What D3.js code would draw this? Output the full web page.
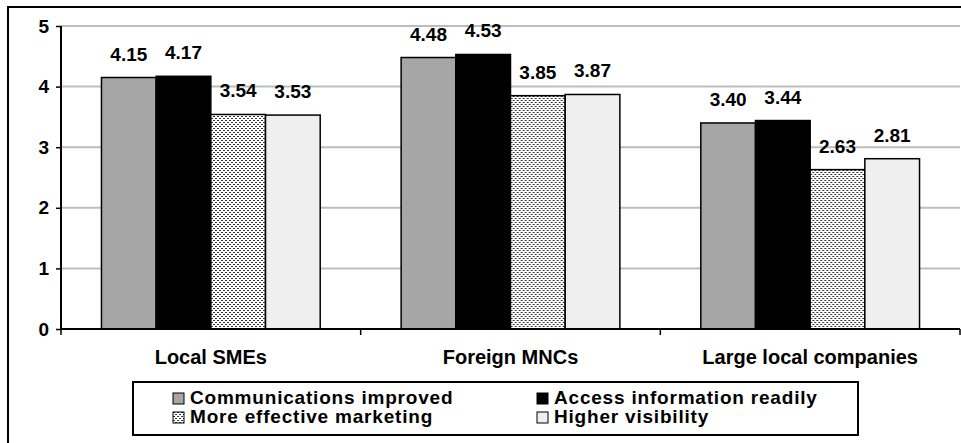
<!DOCTYPE html>
<html>
<head>
<meta charset="utf-8">
<script src="https://cdn.jsdelivr.net/npm/d3@7"></script>
<style>
  html, body { margin: 0; padding: 0; background: #fff; }
  svg { display: block; font-family: "Liberation Sans", Arial, sans-serif; font-weight: bold; }
</style>
</head>
<body>
<svg id="chart" width="961" height="443"></svg>
<script>
// Company groups along the x axis
const categories = ["Local SMEs", "Foreign MNCs", "Large local companies"];
// Benefit series (legend order)
const seriesNames = ["Communications improved", "Access information readily", "More effective marketing", "Higher visibility"];
// Mean scores per series, one value per company group
const communicationsImproved = [4.15, 4.48, 3.40];
const accessInformation = [4.17, 4.53, 3.44];
const effectiveMarketing = [3.54, 3.85, 2.63];
const higherVisibility = [3.53, 3.87, 2.81];
const yTicks = [0, 1, 2, 3, 4, 5];

const seriesValues = [communicationsImproved, accessInformation, effectiveMarketing, higherVisibility];
const fills = ["#a6a6a6", "#000000", "url(#dots)", "#efefef"];
const FONT = "'Liberation Sans', Arial, sans-serif";

const svg = d3.select("#chart");
const defs = svg.append("defs");

// Fine dotted fill for the marketing series
const pat = defs.append("pattern")
  .attr("id", "dots").attr("patternUnits", "userSpaceOnUse")
  .attr("width", 4).attr("height", 4);
pat.append("rect").attr("width", 4).attr("height", 4).attr("fill", "#ffffff");
pat.append("rect").attr("x", 0).attr("y", 0).attr("width", 2).attr("height", 1).attr("fill", "#333");
pat.append("rect").attr("x", 2).attr("y", 2).attr("width", 2).attr("height", 1).attr("fill", "#333");

// Outer chart frame
svg.append("rect")
  .attr("x", 8).attr("y", 7).attr("width", 1000).attr("height", 500)
  .attr("fill", "none").attr("stroke", "#000").attr("stroke-width", 2);

const plot = { left: 61, right: 960, top: 26, bottom: 329 };

const x0 = d3.scaleBand().domain(categories).range([plot.left, plot.right]).padding(0);
const x1 = d3.scaleBand().domain(seriesNames).range([0, x0.bandwidth()])
  .paddingInner(0).paddingOuter(0.74);
const y = d3.scaleLinear().domain([0, 5]).range([plot.bottom, plot.top]);

// Horizontal gridlines
svg.append("g").selectAll("line")
  .data(yTicks.filter(t => t > 0))
  .join("line")
  .attr("x1", plot.left).attr("x2", plot.right)
  .attr("y1", d => y(d)).attr("y2", d => y(d))
  .attr("stroke", "#bdbdbd").attr("stroke-width", 2);

// Bars
const groups = svg.append("g").selectAll("g")
  .data(categories)
  .join("g")
  .attr("transform", d => `translate(${x0(d)},0)`);

groups.selectAll("rect")
  .data((c, ci) => seriesNames.map((s, si) => ({ s, si, v: seriesValues[si][ci] })))
  .join("rect")
  .attr("x", d => x1(d.s))
  .attr("y", d => y(d.v))
  .attr("width", x1.bandwidth())
  .attr("height", d => y(0) - y(d.v))
  .attr("fill", d => fills[d.si])
  .attr("stroke", "#000").attr("stroke-width", 1.5);

// Value labels
groups.selectAll("text")
  .data((c, ci) => seriesNames.map((s, si) => ({ s, si, v: seriesValues[si][ci] })))
  .join("text")
  .attr("x", d => x1(d.s) + x1.bandwidth() / 2)
  .attr("y", d => y(d.v) - 17)
  .attr("text-anchor", "middle")
  .attr("font-size", 19)
  .attr("fill", "#000")
  .text(d => d.v.toFixed(2));

// Y axis
const yAxis = d3.axisLeft(y).tickValues(yTicks).tickFormat(d3.format("d")).tickSize(5).tickPadding(7);
const gy = svg.append("g").attr("transform", `translate(${plot.left},0)`).call(yAxis);
gy.select(".domain").attr("stroke", "#000").attr("stroke-width", 2).attr("d", `M0,${plot.top}V${plot.bottom}`);
gy.selectAll(".tick line").attr("stroke", "#000").attr("stroke-width", 1.5);
gy.selectAll(".tick text").attr("font-size", 19).attr("font-weight", "bold")
  .attr("font-family", FONT).attr("fill", "#000");

// X axis baseline with category separators
const gx = svg.append("g");
gx.append("line")
  .attr("x1", plot.left).attr("x2", plot.right)
  .attr("y1", y(0)).attr("y2", y(0))
  .attr("stroke", "#000").attr("stroke-width", 2);
const bounds = categories.map(c => x0(c)).concat([x0(categories[categories.length - 1]) + x0.bandwidth()]);
gx.selectAll("line.sep")
  .data(bounds)
  .join("line").attr("class", "sep")
  .attr("x1", d => d).attr("x2", d => d)
  .attr("y1", y(0)).attr("y2", y(0) + 6)
  .attr("stroke", "#000").attr("stroke-width", 1.5);
gx.selectAll("text")
  .data(categories)
  .join("text")
  .attr("x", d => x0(d) + x0.bandwidth() / 2)
  .attr("y", 364)
  .attr("text-anchor", "middle")
  .attr("font-size", 20)
  .text(d => d);

// Legend
const legend = svg.append("g");
legend.append("rect")
  .attr("x", 133).attr("y", 382).attr("width", 725).attr("height", 53)
  .attr("fill", "#fff").attr("stroke", "#000").attr("stroke-width", 2);
const legendPos = [
  { x: 173, y: 393 }, { x: 537, y: 393 },
  { x: 173, y: 412 }, { x: 537, y: 412 }
];
const items = legend.selectAll("g.item")
  .data(seriesNames)
  .join("g").attr("class", "item")
  .attr("transform", (d, i) => `translate(${legendPos[i].x},${legendPos[i].y})`);
items.append("rect")
  .attr("x", 0).attr("y", 0).attr("width", 11).attr("height", 11)
  .attr("fill", (d, i) => fills[i])
  .attr("stroke", "#000").attr("stroke-width", 1);
items.append("text")
  .attr("x", 17).attr("y", 11)
  .attr("font-size", 19)
  .attr("letter-spacing", 0.8)
  .text(d => d);
</script>
</body>
</html>
